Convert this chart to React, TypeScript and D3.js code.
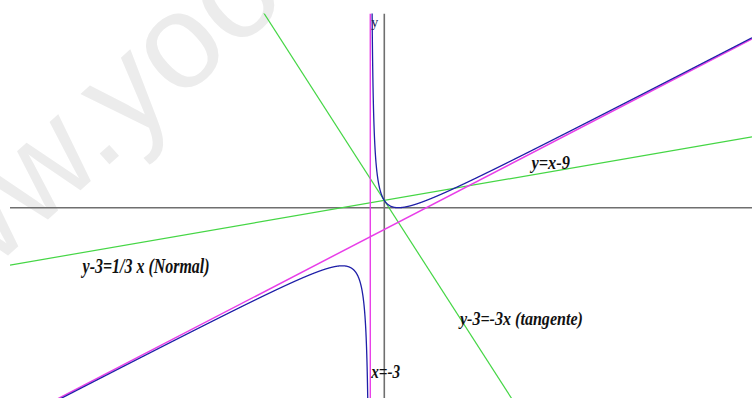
import React from "react";
import * as d3 from "d3";

// ---- data -------------------------------------------------------------
// f(x) = (x - 3)^2 / (x + 3) = x - 9 + 36/(x + 3)
const VERTICAL_ASYMPTOTE = -3;
const OBLIQUE_ASYMPTOTE = [1, -9]; // slope, intercept  (y = x - 9)
const RESIDUE = 36;
const TANGENT = [-3, 3]; // y - 3 = -3x
const NORMAL = [1 / 3, 3]; // y - 3 = 1/3 x

const X_DOMAIN = [-80.15, 78.74];
const Y_DOMAIN = [-78.6, 80.2];

const LABEL_TEXTS = ["y-3=1/3 x (Normal)", "y=x-9", "y-3=-3x (tangente)", "x=-3"];
const LABEL_AT = [
  [-64.6, -26.9],
  [31.5, 15.8],
  [16.2, -48.5],
  [-2.8, -70.2],
];
const LABEL_SIZE = [20.5, 19, 19.5, 19];
const LABEL_WIDTH = [127, 38.5, 123, 29];

const f = (x: number) => x + OBLIQUE_ASYMPTOTE[1] + RESIDUE / (x - VERTICAL_ASYMPTOTE);

export default function App() {
  const W = 752;
  const H = 398;
  const x = d3.scaleLinear().domain(X_DOMAIN).range([10, 752]);
  const y = d3.scaleLinear().domain(Y_DOMAIN).range([398, 13.5]);

  const [x0, x1] = X_DOMAIN;
  const [y0, y1] = Y_DOMAIN;

  const sample = (a: number, b: number) => {
    const pts: [number, number][] = [];
    const n = 3000;
    for (let i = 0; i <= n; i++) {
      const t = i / n;
      const xv = a + (b - a) * t;
      const yv = f(xv);
      if (Math.abs(yv) < 400) pts.push([xv, yv]);
    }
    return pts;
  };
  const leftBranch = sample(x0, VERTICAL_ASYMPTOTE - 0.5);
  const nearLeft = d3
    .range(0.5, 0.07, -0.005)
    .map((d) => [VERTICAL_ASYMPTOTE - d, f(VERTICAL_ASYMPTOTE - d)] as [number, number]);
  const nearRight = d3
    .range(0.07, 0.5, 0.005)
    .map((d) => [VERTICAL_ASYMPTOTE + d, f(VERTICAL_ASYMPTOTE + d)] as [number, number]);
  const rightBranch = sample(VERTICAL_ASYMPTOTE + 0.5, x1);

  const line = d3
    .line<[number, number]>()
    .x((d) => x(d[0]))
    .y((d) => y(d[1]));

  const left = [...leftBranch, ...nearLeft];
  const right = [...nearRight, ...rightBranch];

  const straight = (m: number, b: number): [number, number][] => [
    [x0, m * x0 + b],
    [x1, m * x1 + b],
  ];

  const axisColor = "#6f6f6f";
  const magenta = "#e83ee8";
  const green = "#45d645";
  const blue = "#1f1fa8";

  return (
    <svg
      width={W}
      height={H}
      style={{ position: "absolute", left: 0, top: 0, background: "#fff" }}
    >
      <defs>
        <clipPath id="plot">
          <rect x={10} y={13.5} width={742} height={384.5} />
        </clipPath>
        <clipPath id="page">
          <rect x={0} y={0} width={W} height={H} />
        </clipPath>
      </defs>
      <rect width={W} height={H} fill="#fff" />
      {/* watermark */}
      <g clipPath="url(#page)">
        <g transform="translate(115,150) rotate(-42)">
          <text
            x={-311}
            y={6.75}
            fontFamily="Liberation Sans, Arial, sans-serif"
            fontSize={135}
            fill="#ececec"
          >
            www.yoo
          </text>
        </g>
      </g>

      <g clipPath="url(#plot)">
        {/* axes */}
        <line x1={x(x0)} x2={x(x1)} y1={y(0)} y2={y(0)} stroke={axisColor} strokeWidth={1.6} />
        <line x1={x(0)} x2={x(0)} y1={y(y0)} y2={y(y1)} stroke={axisColor} strokeWidth={1.6} />

        {/* tangent & normal */}
        <path d={line(straight(TANGENT[0], TANGENT[1])) || ""} stroke={green} strokeWidth={1.2} fill="none" />
        <path d={line(straight(NORMAL[0], NORMAL[1])) || ""} stroke={green} strokeWidth={1.2} fill="none" />

        {/* asymptotes */}
        <line
          x1={x(VERTICAL_ASYMPTOTE)}
          x2={x(VERTICAL_ASYMPTOTE)}
          y1={y(y0)}
          y2={y(y1)}
          stroke={magenta}
          strokeWidth={1.4}
        />
        <path
          d={line(straight(OBLIQUE_ASYMPTOTE[0], OBLIQUE_ASYMPTOTE[1])) || ""}
          stroke={magenta}
          strokeWidth={1.5}
          fill="none"
        />

        {/* curve */}
        <path d={line(left) || ""} stroke={blue} strokeWidth={1.3} fill="none" />
        <path d={line(right) || ""} stroke={blue} strokeWidth={1.3} fill="none" />
      </g>

      {/* y axis label */}
      <text x={x(0) - 13} y={y(y1) + 13} fontFamily="Liberation Serif, serif" fontSize={14} fill="#1a1a50">
        y
      </text>

      {LABEL_TEXTS.map((t, i) => (
        <text
          key={t}
          x={x(LABEL_AT[i][0])}
          y={y(LABEL_AT[i][1])}
          fontFamily="Liberation Serif, 'Times New Roman', serif"
          fontStyle="italic"
          fontWeight="bold"
          fontSize={LABEL_SIZE[i]}
          textLength={LABEL_WIDTH[i]}
          lengthAdjust="spacingAndGlyphs"
          fill="#111"
        >
          {t}
        </text>
      ))}
    </svg>
  );
}
